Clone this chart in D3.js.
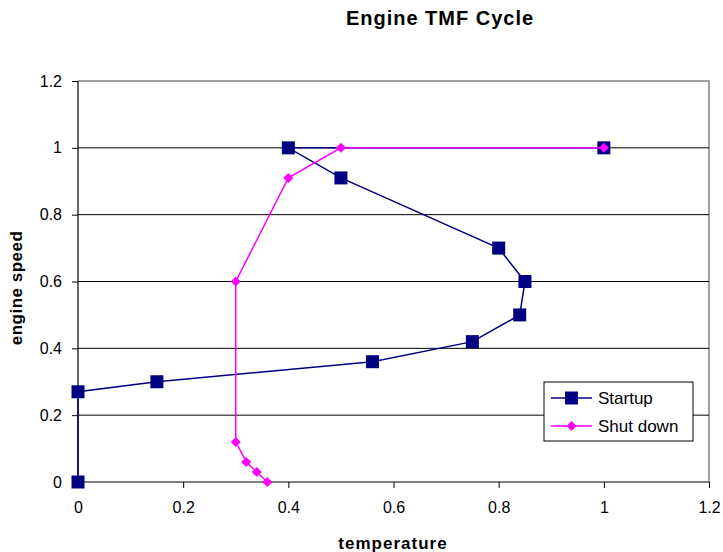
<!DOCTYPE html>
<html>
<head>
<meta charset="utf-8">
<script src="https://cdn.jsdelivr.net/npm/d3@7"></script>
<style>
body{margin:0;background:#fff;}
svg text{font-family:"Liberation Sans",Arial,sans-serif;}
</style>
</head>
<body>
<script>
// series values
var startupX = [0, 0, 0.15, 0.56, 0.75, 0.84, 0.85, 0.80, 0.50, 0.40, 1.0];
var startupY = [0, 0.27, 0.30, 0.36, 0.42, 0.50, 0.60, 0.70, 0.91, 1.0, 1.0];
var shutX = [1.0, 0.50, 0.40, 0.30, 0.30, 0.32, 0.34, 0.36];
var shutY = [1.0, 1.0, 0.91, 0.60, 0.12, 0.06, 0.03, 0];
var xTicks = [0, 0.2, 0.4, 0.6, 0.8, 1, 1.2];
var yTicks = [0, 0.2, 0.4, 0.6, 0.8, 1, 1.2];
var seriesNames = ["Startup", "Shut down"];

var W = 723, H = 552;
var plotL = 78, plotR = 709, plotT = 81, plotB = 482;

var svg = d3.select("body").append("svg")
  .attr("width", W)
  .attr("height", H);

var x = d3.scaleLinear().domain([0, 1.2]).range([plotL, plotR]);
var y = d3.scaleLinear().domain([0, 1.2]).range([plotB, plotT]);

// plot border (top/right gray)
svg.append("path")
  .attr("d", "M" + x(0) + "," + y(1.2) + "H" + x(1.2) + "V" + y(0))
  .attr("fill", "none")
  .attr("stroke", "#808080")
  .attr("stroke-width", 1.5);

// gridlines
svg.selectAll("line.grid").data(yTicks.filter(function(d){ return d > 0 && d < 1.2; }))
  .enter().append("line")
  .attr("class", "grid")
  .attr("x1", x(0)).attr("x2", x(1.2))
  .attr("y1", function(d){ return y(d); })
  .attr("y2", function(d){ return y(d); })
  .attr("stroke", "#000")
  .attr("stroke-width", 1);

// axes
var xAxis = d3.axisBottom(x).tickValues(xTicks).tickSize(6).tickPadding(14)
  .tickFormat(function(d){ return String(d); });
var yAxis = d3.axisLeft(y).tickValues(yTicks).tickSize(6).tickPadding(10)
  .tickFormat(function(d){ return String(d); });

var gx = svg.append("g").attr("transform", "translate(0," + y(0) + ")").call(xAxis);
var gy = svg.append("g").attr("transform", "translate(" + x(0) + ",0)").call(yAxis);
[gx, gy].forEach(function(g){
  g.select(".domain").attr("stroke", "#000").attr("stroke-width", 1.2);
  g.selectAll(".tick line").attr("stroke", "#000");
  g.selectAll(".tick text").attr("font-size", 16).attr("fill", "#000")
    .attr("font-family", "Liberation Sans, Arial, sans-serif");
});
gx.select(".domain").attr("d", "M" + x(0) + ",0H" + x(1.2));
gy.select(".domain").attr("d", "M0," + y(0) + "V" + y(1.2));

// lines
var startData = startupX.map(function(v, i){ return [v, startupY[i]]; });
var shutData = shutX.map(function(v, i){ return [v, shutY[i]]; });
var line = d3.line().x(function(d){ return x(d[0]); }).y(function(d){ return y(d[1]); });

svg.append("path").datum(startData)
  .attr("d", line).attr("fill", "none")
  .attr("stroke", "#000080").attr("stroke-width", 1.5);
svg.selectAll("rect.sq").data(startData).enter().append("rect")
  .attr("class", "sq")
  .attr("x", function(d){ return x(d[0]) - 6.5; })
  .attr("y", function(d){ return y(d[1]) - 6.5; })
  .attr("width", 13).attr("height", 13)
  .attr("fill", "#000080");

svg.append("path").datum(shutData)
  .attr("d", line).attr("fill", "none")
  .attr("stroke", "#ff00ff").attr("stroke-width", 1.5);
var diamond = "M0,-5L5,0L0,5L-5,0Z";
svg.selectAll("path.dm").data(shutData).enter().append("path")
  .attr("class", "dm")
  .attr("d", diamond)
  .attr("transform", function(d){ return "translate(" + x(d[0]) + "," + y(d[1]) + ")"; })
  .attr("fill", "#ff00ff");

// titles
svg.append("text")
  .attr("x", 440).attr("y", 25)
  .attr("text-anchor", "middle")
  .attr("font-size", 20).attr("font-weight", "bold")
  .attr("letter-spacing", 1)
  .text("Engine TMF Cycle");
svg.append("text")
  .attr("x", 393).attr("y", 549)
  .attr("text-anchor", "middle")
  .attr("font-size", 17).attr("font-weight", "bold")
  .attr("letter-spacing", 1)
  .text("temperature");
svg.append("text")
  .attr("transform", "translate(22,288) rotate(-90)")
  .attr("text-anchor", "middle")
  .attr("font-size", 17).attr("font-weight", "bold")
  .attr("letter-spacing", 0.5)
  .text("engine speed");

// legend
var lg = svg.append("g").attr("transform", "translate(544,382)");
lg.append("rect").attr("width", 149).attr("height", 59)
  .attr("fill", "#fff").attr("stroke", "#000").attr("stroke-width", 1);
var legColors = ["#000080", "#ff00ff"];
seriesNames.forEach(function(name, i){
  var yy = 16 + i * 28;
  lg.append("line").attr("x1", 7).attr("x2", 48).attr("y1", yy).attr("y2", yy)
    .attr("stroke", legColors[i]).attr("stroke-width", 1.5);
  if (i === 0) {
    lg.append("rect").attr("x", 27.5 - 6.5).attr("y", yy - 6.5)
      .attr("width", 13).attr("height", 13).attr("fill", legColors[i]);
  } else {
    lg.append("path").attr("d", diamond)
      .attr("transform", "translate(27.5," + yy + ")")
      .attr("fill", legColors[i]);
  }
  lg.append("text").attr("x", 54).attr("y", yy + 6)
    .attr("font-size", 17).text(name);
});
</script>
</body>
</html>
